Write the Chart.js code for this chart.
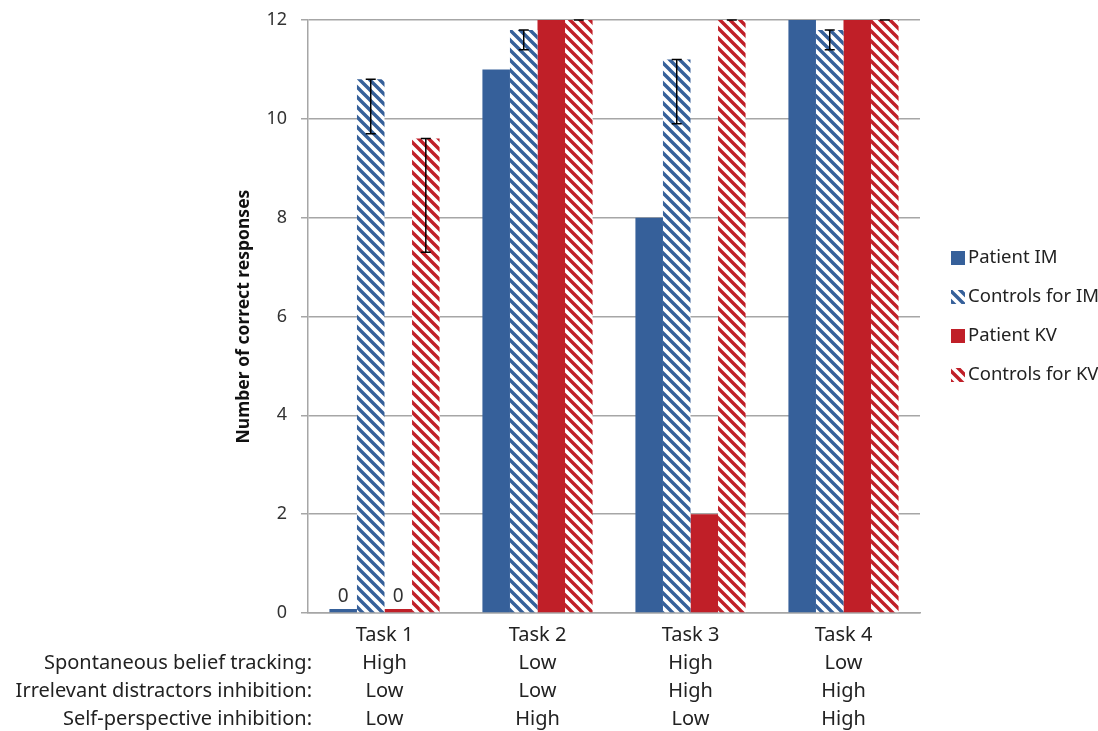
<!DOCTYPE html>
<html>
<head>
<meta charset="utf-8">
<script src="https://cdn.jsdelivr.net/npm/chart.js@4.4.1/dist/chart.umd.min.js"></script>
<style>
body{margin:0;background:#fff}
#wrap{width:1098px;height:731px}
</style>
</head>
<body>
<div id="wrap"><canvas id="myChart" width="1098" height="731"></canvas></div>
<script>
var tasks = ['Task 1', 'Task 2', 'Task 3', 'Task 4'];
var rowNames = ['Spontaneous belief tracking:', 'Irrelevant distractors inhibition:', 'Self-perspective inhibition:'];
var beliefTracking = ['High', 'Low', 'High', 'Low'];
var distractorsInhib = ['Low', 'Low', 'High', 'High'];
var selfInhib = ['Low', 'High', 'Low', 'High'];

var patientIM = [0, 11, 8, 12];
var controlsIM = [10.8, 11.8, 11.2, 11.8];
var controlsIMLow = [9.7, 11.4, 9.9, 11.4];
var patientKV = [0, 12, 2, 12];
var controlsKV = [9.6, 12, 12, 12];
var controlsKVLow = [7.3, 12, 12, 12];

var blue = '#36609a';
var red = '#c01f28';
var grey = '#a6a6a6';

function hatch(color){
    var s = 10;
    var c = document.createElement('canvas');
    c.width = s; c.height = s;
    var g = c.getContext('2d');
    g.fillStyle = '#fff';
    g.fillRect(0, 0, s, s);
    g.strokeStyle = color;
    g.lineWidth = 3.4;
    g.beginPath();
    g.moveTo(-s, 0); g.lineTo(s, 2 * s);
    g.moveTo(0, 0); g.lineTo(s, s);
    g.moveTo(0, -s); g.lineTo(2 * s, s);
    g.stroke();
    return g.createPattern(c, 'repeat');
}

var ctx = document.getElementById('myChart').getContext('2d');

var labels = tasks.map(function(t, i){
    return [t, beliefTracking[i], distractorsInhib[i], selfInhib[i]];
});

var errLows = {1: controlsIMLow, 3: controlsKVLow};

var extras = {
    id: 'extras',
    afterDatasetsDraw: function(chart){
        var c = chart.ctx;
        var y = chart.scales.y;
        // error bars
        c.save();
        c.strokeStyle = '#000';
        c.lineWidth = 1.5;
        Object.keys(errLows).forEach(function(di){
            var meta = chart.getDatasetMeta(di);
            var vals = chart.data.datasets[di].data;
            meta.data.forEach(function(bar, i){
                var top = y.getPixelForValue(vals[i]);
                var low = y.getPixelForValue(errLows[di][i]);
                c.beginPath();
                c.moveTo(bar.x, top); c.lineTo(bar.x, low);
                c.moveTo(bar.x - 5, top); c.lineTo(bar.x + 5, top);
                c.moveTo(bar.x - 5, low); c.lineTo(bar.x + 5, low);
                c.stroke();
            });
        });
        // zero labels
        c.fillStyle = '#333';
        c.font = '19px "Noto Sans"';
        c.textAlign = 'center';
        c.textBaseline = 'bottom';
        [0, 2].forEach(function(di){
            var meta = chart.getDatasetMeta(di);
            chart.data.datasets[di].data.forEach(function(v, i){
                if (v === 0) {
                    c.fillText('0', meta.data[i].x, y.getPixelForValue(0) - 7);
                }
            });
        });
        // row titles
        c.fillStyle = '#222';
        c.font = '20px "Noto Sans"';
        c.textAlign = 'right';
        c.textBaseline = 'middle';
        rowNames.forEach(function(n, i){
            c.fillText(n, 312, 663 + i * 28);
        });
        // legend
        var ly = 258;
        c.font = '18.5px "Noto Sans"';
        c.textAlign = 'left';
        chart.data.datasets.forEach(function(ds, i){
            var yy = ly + i * 39;
            c.fillStyle = ds.backgroundColor;
            c.fillRect(951, yy - 7, 14, 14);
            c.fillStyle = '#222';
            c.fillText(ds.label, 968, yy);
        });
        c.restore();
    }
};

var chart = new Chart(ctx, {
    type: 'bar',
    data: {
        labels: labels,
        datasets: [{
            label: 'Patient IM',
            backgroundColor: blue,
            data: patientIM,
            minBarLength: 4
        },{
            label: 'Controls for IM',
            backgroundColor: hatch(blue),
            data: controlsIM
        },{
            label: 'Patient KV',
            backgroundColor: red,
            data: patientKV,
            minBarLength: 4
        },{
            label: 'Controls for KV',
            backgroundColor: hatch(red),
            data: controlsKV
        }]
    },
    options: {
        responsive: false,
        animation: false,
        layout: {padding: {left: 232, top: 20, right: 178, bottom: 0}},
        datasets: {bar: {categoryPercentage: 0.72, barPercentage: 1}},
        plugins: {
            legend: {display: false},
            tooltip: {enabled: false}
        },
        scales: {
            x: {
                grid: {display: false, drawTicks: false},
                border: {display: true, color: grey, width: 1.5},
                ticks: {
                    color: '#222',
                    font: {family: 'Noto Sans', size: 20, lineHeight: 28 / 20},
                    padding: 8,
                    maxRotation: 0
                },
                afterFit: function(s){ s.height = 118; s.paddingLeft = 0; s.paddingRight = 0; }
            },
            y: {
                min: 0,
                max: 12,
                ticks: {
                    stepSize: 2,
                    color: '#333',
                    font: {family: 'Noto Sans', size: 18},
                    padding: 14
                },
                grid: {color: grey, lineWidth: 1.5, tickLength: 7},
                border: {display: true, color: grey, width: 1.5},
                title: {
                    display: true,
                    text: 'Number of correct responses',
                    color: '#111',
                    font: {family: 'Noto Sans', size: 17.5, weight: 'bold'},
                    padding: 2
                },
                afterFit: function(s){ s.width = 76; s.paddingTop = 0; s.paddingBottom = 0; }
            }
        }
    },
    plugins: [extras]
});
</script>
</body>
</html>
